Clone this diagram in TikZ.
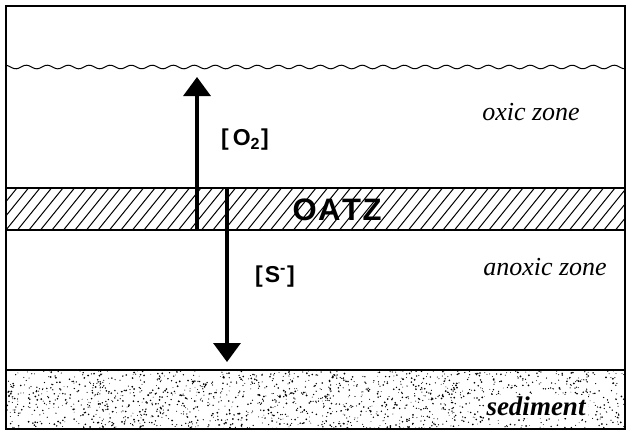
\documentclass[tikz,border=0pt]{standalone}
\usepackage{fontspec}
\setmainfont{Liberation Serif}
\setsansfont{Liberation Sans}
\usetikzlibrary{arrows.meta}
\tikzset{
  frameline/.style={line width=1.2pt},
  bigarrow/.style={line width=3.4pt,-{Triangle[width=27pt,length=19pt]}},
  zonelabel/.style={font=\fontsize{26}{30}\selectfont\itshape,inner sep=0pt},
  conclabel/.style={font=\fontsize{23}{26}\selectfont\sffamily\bfseries,inner sep=0pt},
}
\begin{document}
\begin{tikzpicture}[x=1pt,y=-1pt]
\useasboundingbox (0,0) rectangle (630,434);
% sediment stipple
\begin{scope}
\clip (6,370) rectangle (625,429);
\pgfmathsetseed{7}
\foreach \i in {1,...,1700}{
  \pgfmathsetmacro{\px}{6+619*rnd}
  \pgfmathsetmacro{\py}{370+59*rnd}
  \pgfmathsetmacro{\pr}{0.4+0.6*rnd}
  \fill (\px,\py) circle (\pr pt);
}
\end{scope}
% hatched OATZ band
\begin{scope}
\clip (6,188) rectangle (625,230);
\foreach \x in {-40,-28.5,...,640}{
  \draw[line width=1pt] (\x,230) -- (\x+34,188);
}
\end{scope}
\draw[frameline] (6,188) -- (625,188);
\draw[frameline] (6,230) -- (625,230);
% sediment top line
\draw[frameline] (6,370) -- (625,370);
% water surface
\draw[line width=1pt] plot[domain=6:625,samples=300,smooth] (\x,{67-1.8*sin(\x/21*360)});
% frame
\draw[frameline] (6,6) rectangle (625,429);
% labels
\node[font=\fontsize{31}{34}\selectfont\sffamily\bfseries,inner sep=0pt] (oatz) at (337,210) {O\kern1.5pt A\kern1.5pt T\kern1.5pt Z};
\node[zonelabel] (oxic) at (531,112) {oxic zone};
\node[zonelabel] (anoxic) at (545,267) {anoxic zone};
\node[zonelabel,font=\fontsize{27}{30}\selectfont\bfseries\itshape,fill=white,inner sep=2pt] (sed) at (536,406) {sediment};
\node[conclabel] (o2) at (245,140) {[\kern4pt O\textsubscript{2}\kern1pt]};
\node[conclabel] (s) at (275,277) {[\kern2pt S\textsuperscript{-}\kern1pt]};
% arrows
\coordinate (upstart) at (197,230);
\coordinate (uptip) at (197,77);
\coordinate (downstart) at (227,188);
\coordinate (downtip) at (227,362);
\draw[bigarrow] (upstart) -- (uptip);
\draw[bigarrow] (downstart) -- (downtip);
\end{tikzpicture}
\end{document}
